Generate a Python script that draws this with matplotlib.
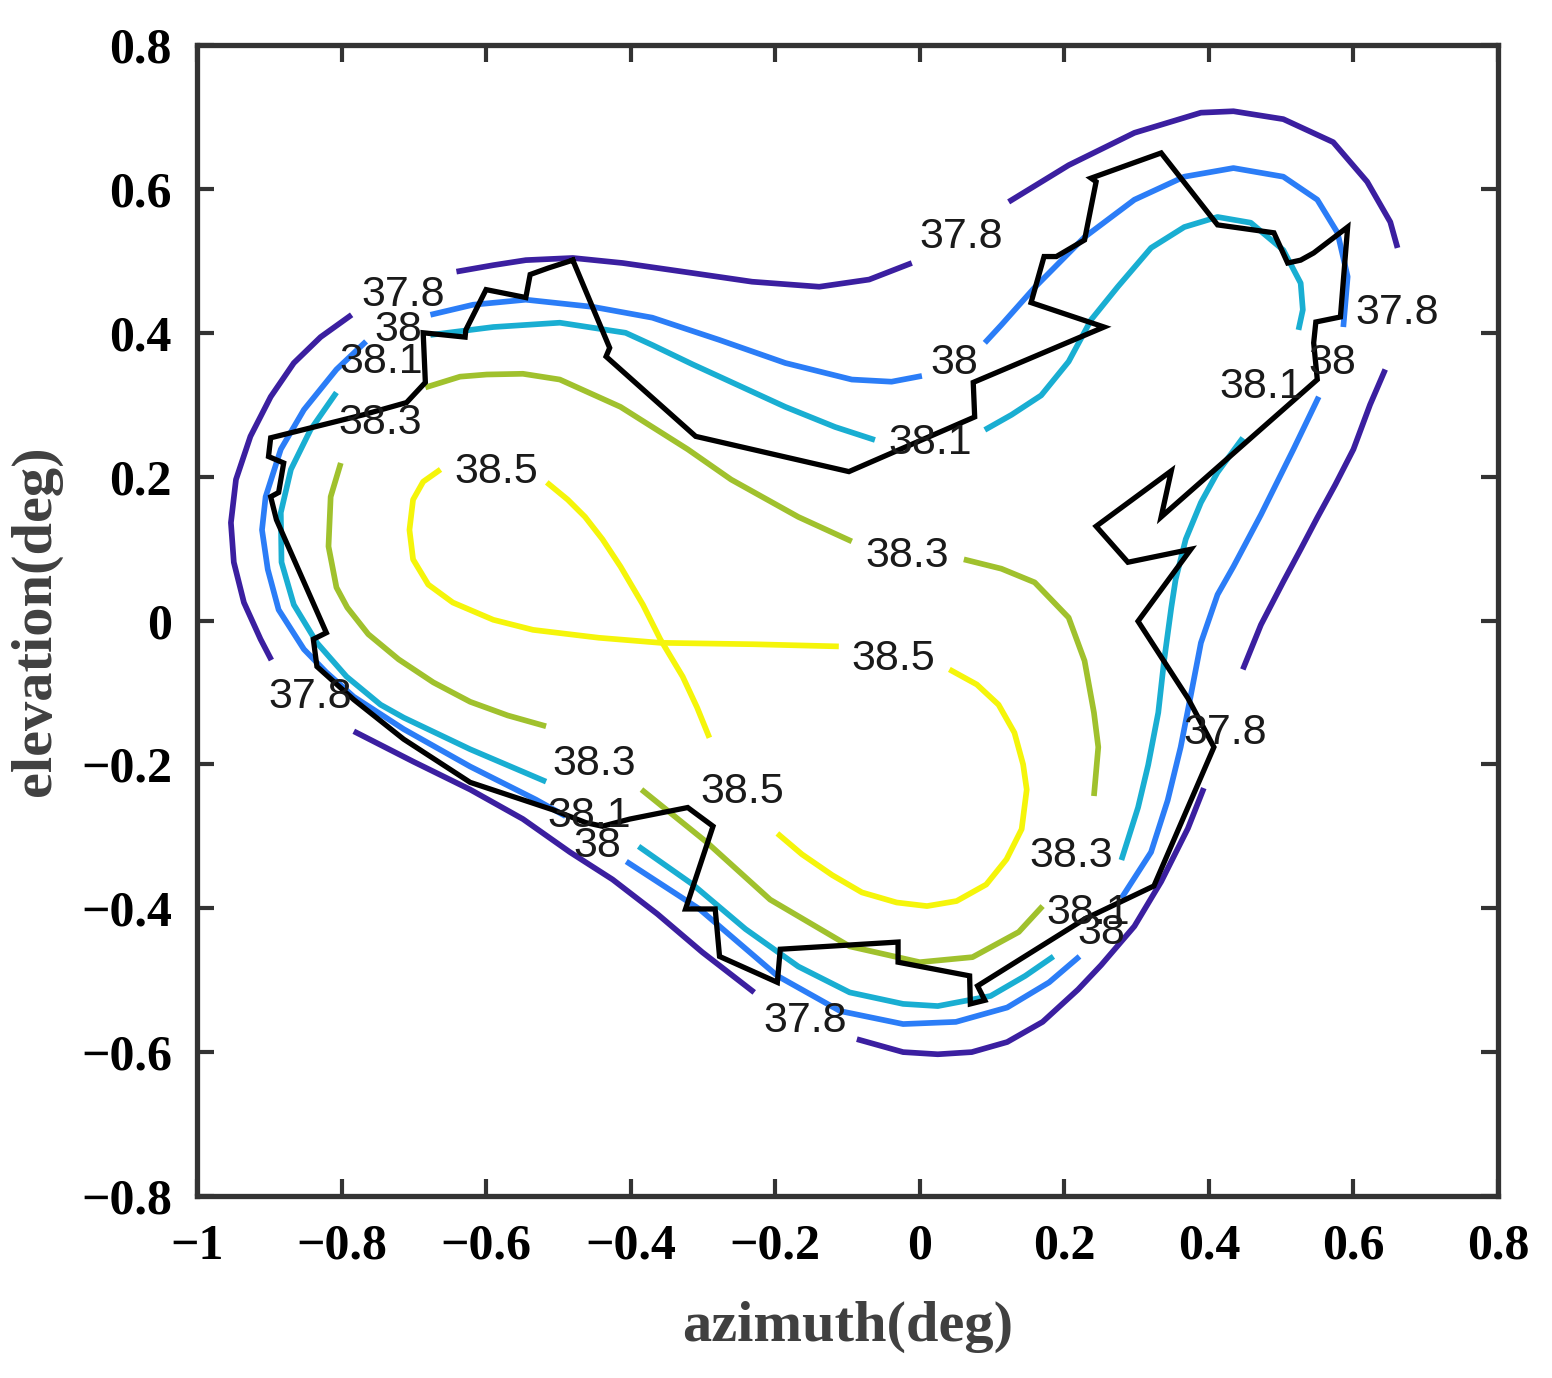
import matplotlib
matplotlib.use("Agg")
import matplotlib.pyplot as plt

# contour pieces (azimuth, elevation) in deg
lvl378_topleft = [(-0.786, 0.425), (-0.829, 0.394), (-0.866, 0.358), (-0.898, 0.311), (-0.926, 0.256),
                  (-0.946, 0.196), (-0.953, 0.136), (-0.949, 0.081), (-0.935, 0.025), (-0.912, -0.026),
                  (-0.897, -0.055)]
lvl378_top = [(-0.641, 0.485), (-0.590, 0.494), (-0.545, 0.501), (-0.480, 0.504), (-0.411, 0.497),
              (-0.314, 0.483), (-0.232, 0.471), (-0.139, 0.464), (-0.070, 0.474), (-0.011, 0.497)]
lvl378_topright = [(0.123, 0.582), (0.206, 0.633), (0.297, 0.678), (0.389, 0.706), (0.434, 0.708),
                   (0.503, 0.697), (0.572, 0.665), (0.619, 0.610), (0.651, 0.554), (0.661, 0.518)]
lvl378_right = [(0.644, 0.349), (0.623, 0.300), (0.600, 0.238), (0.575, 0.189), (0.550, 0.143),
                (0.527, 0.099), (0.503, 0.054), (0.472, -0.006), (0.447, -0.068)]
lvl378_bottomright = [(0.393, -0.233), (0.371, -0.289), (0.334, -0.363), (0.297, -0.425), (0.251, -0.479),
                      (0.219, -0.513), (0.170, -0.558), (0.121, -0.586), (0.072, -0.600), (0.025, -0.603),
                      (-0.023, -0.600), (-0.087, -0.582)]
lvl378_bottomleft = [(-0.783, -0.154), (-0.701, -0.196), (-0.622, -0.235), (-0.549, -0.276), (-0.484, -0.322),
                     (-0.425, -0.360), (-0.363, -0.408), (-0.301, -0.461), (-0.229, -0.517)]

lvl38_top = [(-0.677, 0.425), (-0.618, 0.439), (-0.545, 0.446), (-0.452, 0.436), (-0.370, 0.421),
             (-0.277, 0.390), (-0.186, 0.358), (-0.094, 0.335), (-0.039, 0.332), (0.003, 0.340)]
lvl38_arc = [(0.090, 0.386), (0.113, 0.411), (0.159, 0.463), (0.228, 0.533), (0.297, 0.585), (0.366, 0.617),
             (0.434, 0.629), (0.503, 0.617), (0.550, 0.585), (0.578, 0.539), (0.592, 0.478), (0.586, 0.408)]
lvl38_right = [(0.552, 0.311), (0.517, 0.238), (0.472, 0.147), (0.434, 0.075), (0.412, 0.036),
               (0.389, -0.031), (0.375, -0.104), (0.361, -0.176), (0.343, -0.250), (0.320, -0.322),
               (0.279, -0.386)]
lvl38_bottom = [(-0.406, -0.335), (-0.305, -0.401), (-0.197, -0.494), (-0.110, -0.543), (-0.023, -0.561),
                (0.050, -0.558), (0.121, -0.538), (0.179, -0.503), (0.221, -0.467)]
lvl38_left = [(-0.766, 0.388), (-0.807, 0.349), (-0.852, 0.293), (-0.884, 0.238), (-0.905, 0.172),
              (-0.910, 0.126), (-0.902, 0.071), (-0.887, 0.015), (-0.852, -0.040), (-0.821, -0.072),
              (-0.783, -0.106), (-0.714, -0.151), (-0.622, -0.203), (-0.531, -0.249), (-0.490, -0.272)]

lvl381_top = [(-0.677, 0.397), (-0.590, 0.408), (-0.498, 0.414), (-0.407, 0.400), (-0.370, 0.383),
              (-0.314, 0.356), (-0.277, 0.339), (-0.186, 0.297), (-0.117, 0.269), (-0.062, 0.251)]
lvl381_arc = [(0.090, 0.265), (0.127, 0.286), (0.168, 0.313), (0.206, 0.360), (0.237, 0.418), (0.274, 0.464),
              (0.320, 0.518), (0.366, 0.547), (0.412, 0.561), (0.458, 0.553), (0.503, 0.515), (0.527, 0.469),
              (0.530, 0.432), (0.524, 0.404)]
lvl381_right = [(0.447, 0.254), (0.412, 0.206), (0.389, 0.164), (0.368, 0.113), (0.354, 0.057),
                (0.348, 0.018), (0.338, -0.056), (0.330, -0.128), (0.316, -0.201), (0.302, -0.260),
                (0.279, -0.333)]
lvl381_bottom = [(-0.389, -0.314), (-0.314, -0.367), (-0.241, -0.429), (-0.168, -0.481), (-0.097, -0.517),
                 (-0.023, -0.533), (0.025, -0.536), (0.098, -0.522), (0.146, -0.494), (0.185, -0.467)]
lvl381_left = [(-0.807, 0.317), (-0.843, 0.265), (-0.870, 0.210), (-0.884, 0.150), (-0.883, 0.081),
               (-0.866, 0.022), (-0.834, -0.031), (-0.793, -0.078), (-0.746, -0.117), (-0.714, -0.135),
               (-0.622, -0.179), (-0.517, -0.224)]

lvl383_top = [(-0.684, 0.324), (-0.636, 0.339), (-0.599, 0.342), (-0.549, 0.343), (-0.498, 0.335),
              (-0.414, 0.297), (-0.321, 0.238), (-0.261, 0.196), (-0.168, 0.144), (-0.094, 0.110)]
lvl383_right = [(0.061, 0.085), (0.113, 0.072), (0.159, 0.053), (0.206, 0.004), (0.228, -0.056),
                (0.241, -0.128), (0.247, -0.176), (0.241, -0.244)]
lvl383_bottom = [(-0.385, -0.235), (-0.295, -0.308), (-0.207, -0.388), (-0.097, -0.453), (0.000, -0.475),
                 (0.073, -0.468), (0.137, -0.433), (0.170, -0.397)]
lvl383_left = [(-0.801, 0.219), (-0.815, 0.172), (-0.818, 0.103), (-0.807, 0.046), (-0.792, 0.018),
               (-0.763, -0.019), (-0.721, -0.054), (-0.673, -0.086), (-0.622, -0.113), (-0.570, -0.132),
               (-0.517, -0.147)]

lvl385_loop = [(-0.663, 0.210), (-0.687, 0.193), (-0.701, 0.168), (-0.706, 0.126), (-0.701, 0.085),
               (-0.680, 0.050), (-0.646, 0.025), (-0.590, 0.001), (-0.535, -0.013), (-0.444, -0.024),
               (-0.359, -0.031), (-0.229, -0.033), (-0.112, -0.036)]
lvl385_cross = [(-0.516, 0.192), (-0.487, 0.168), (-0.463, 0.144), (-0.439, 0.113), (-0.414, 0.075),
                (-0.383, 0.022), (-0.359, -0.026), (-0.328, -0.078), (-0.308, -0.121), (-0.291, -0.163)]
lvl385_lower = [(0.041, -0.068), (0.079, -0.089), (0.109, -0.117), (0.131, -0.156), (0.143, -0.200),
                (0.148, -0.235), (0.141, -0.290), (0.120, -0.332), (0.092, -0.367), (0.051, -0.390),
                (0.010, -0.397), (-0.032, -0.392), (-0.080, -0.378), (-0.121, -0.354), (-0.163, -0.325),
                (-0.197, -0.296)]

levels = ["37.8", "38", "38.1", "38.3", "38.5"]
level_colors = ["#3b1fa0", "#2b7df7", "#19aed2", "#a0c12d", "#f5f50a"]
level_pieces = [
    [lvl378_topleft, lvl378_top, lvl378_topright, lvl378_right, lvl378_bottomright, lvl378_bottomleft],
    [lvl38_top, lvl38_arc, lvl38_right, lvl38_bottom, lvl38_left],
    [lvl381_top, lvl381_arc, lvl381_right, lvl381_bottom, lvl381_left],
    [lvl383_top, lvl383_right, lvl383_bottom, lvl383_left],
    [lvl385_loop, lvl385_cross, lvl385_lower],
]

# black boundary path
boundary = [(-0.480, 0.501), (-0.429, 0.379), (-0.434, 0.367), (-0.310, 0.256), (-0.098, 0.207),
            (0.076, 0.283), (0.074, 0.331), (0.255, 0.408), (0.154, 0.442), (0.172, 0.506), (0.189, 0.506),
            (0.228, 0.529), (0.244, 0.610), (0.237, 0.615), (0.334, 0.650), (0.412, 0.550), (0.490, 0.539),
            (0.509, 0.497), (0.527, 0.501), (0.545, 0.511), (0.592, 0.547), (0.582, 0.422), (0.548, 0.415),
            (0.545, 0.386), (0.550, 0.335), (0.334, 0.144), (0.348, 0.208), (0.244, 0.131), (0.288, 0.081),
            (0.375, 0.099), (0.302, -0.001), (0.371, -0.108), (0.407, -0.176), (0.324, -0.369),
            (0.228, -0.415), (0.080, -0.508), (0.090, -0.528), (0.070, -0.533), (0.069, -0.494),
            (-0.030, -0.475), (-0.030, -0.447), (-0.193, -0.457), (-0.197, -0.503), (-0.277, -0.467),
            (-0.283, -0.401), (-0.324, -0.401), (-0.286, -0.286), (-0.321, -0.260), (-0.401, -0.276),
            (-0.439, -0.286), (-0.462, -0.281), (-0.508, -0.263), (-0.622, -0.225), (-0.714, -0.165),
            (-0.783, -0.110), (-0.834, -0.064), (-0.839, -0.026), (-0.821, -0.017), (-0.890, 0.140),
            (-0.898, 0.172), (-0.887, 0.178), (-0.880, 0.219), (-0.901, 0.228), (-0.898, 0.254),
            (-0.770, 0.286), (-0.710, 0.303), (-0.684, 0.331), (-0.687, 0.400), (-0.629, 0.394),
            (-0.628, 0.404), (-0.600, 0.460), (-0.545, 0.449), (-0.539, 0.481), (-0.514, 0.490),
            (-0.480, 0.501)]

label_text = ["37.8", "38", "38.1", "38.3", "38.5", "37.8", "38", "38.1", "37.8", "38", "38.1",
              "38.3", "38.5", "37.8", "38.3", "38.1", "38", "38.5", "38.3", "38.1", "38", "37.8", "37.8"]
label_x = [-0.714, -0.721, -0.745, -0.746, -0.586, 0.058, 0.048, 0.014, 0.661, 0.571, 0.472,
           -0.017, -0.036, 0.423, 0.210, 0.233, 0.251, -0.246, -0.450, -0.457, -0.446, -0.843, -0.159]
label_y = [0.453, 0.404, 0.360, 0.275, 0.206, 0.533, 0.358, 0.247, 0.428, 0.358, 0.324,
           0.089, -0.054, -0.156, -0.328, -0.406, -0.435, -0.239, -0.200, -0.272, -0.314, -0.106, -0.557]

xticks = [-1, -0.8, -0.6, -0.4, -0.2, 0, 0.2, 0.4, 0.6, 0.8]
xtick_labels = ["\u22121", "\u22120.8", "\u22120.6", "\u22120.4", "\u22120.2", "0", "0.2", "0.4", "0.6", "0.8"]
yticks = [-0.8, -0.6, -0.4, -0.2, 0, 0.2, 0.4, 0.6, 0.8]
ytick_labels = ["\u22120.8", "\u22120.6", "\u22120.4", "\u22120.2", "0", "0.2", "0.4", "0.6", "0.8"]

fig = plt.figure(figsize=(15.52, 13.78), dpi=100)
ax = fig.add_axes([0.1269, 0.1321, 0.8383, 0.8352])

for pieces, col in zip(level_pieces, level_colors):
    for seg in pieces:
        xs = [p[0] for p in seg]
        ys = [p[1] for p in seg]
        ax.plot(xs, ys, color=col, lw=4.1, solid_capstyle="butt", solid_joinstyle="round", zorder=2)

bx = [p[0] for p in boundary]
by = [p[1] for p in boundary]
ax.plot(bx, by, color="black", lw=3.8, solid_joinstyle="miter", zorder=3)

for t, x, y in zip(label_text, label_x, label_y):
    ax.text(x, y, t, fontsize=31, family="Liberation Sans", color="#1a1a1a",
            ha="center", va="center", zorder=4)

ax.set_xlim(-1, 0.8)
ax.set_ylim(-0.8, 0.8)
ax.set_xticks(xticks)
ax.set_xticklabels(xtick_labels)
ax.set_yticks(yticks)
ax.set_yticklabels(ytick_labels)
for lab in ax.get_xticklabels() + ax.get_yticklabels():
    lab.set_family("Liberation Serif")
    lab.set_fontweight("bold")
    lab.set_fontsize(36)
ax.tick_params(direction="in", length=12, width=3, color="#333333", top=True, right=True)
ax.tick_params(axis="x", pad=20)
ax.tick_params(axis="y", pad=18)
for sp in ax.spines.values():
    sp.set_linewidth(3.8)
    sp.set_color("#333333")

ax.set_xlabel("azimuth(deg)", family="Liberation Serif", fontweight="bold", fontsize=42,
              color="#404040", labelpad=22)
ax.set_ylabel("elevation(deg)", family="Liberation Serif", fontweight="bold", fontsize=42,
              color="#404040", labelpad=14)

fig.savefig("out.png", dpi=100)
